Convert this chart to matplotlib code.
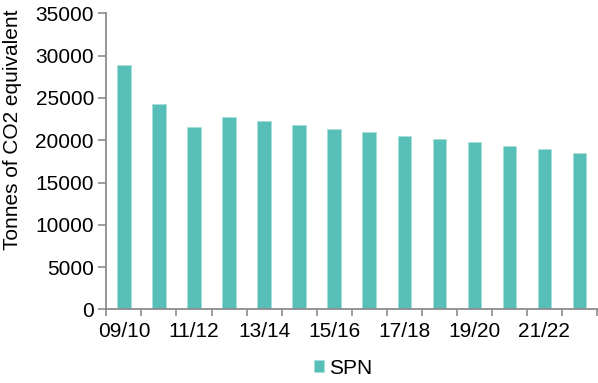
import matplotlib
matplotlib.use("Agg")
import matplotlib.pyplot as plt
from matplotlib.ticker import FixedLocator, NullFormatter, FixedFormatter
import numpy as np

plt.rcParams['font.family'] = ['Liberation Sans', 'DejaVu Sans']

years = ["09/10", "10/11", "11/12", "12/13", "13/14", "14/15", "15/16",
         "16/17", "17/18", "18/19", "19/20", "20/21", "21/22", "22/23"]
spn = [28950, 24250, 21550, 22700, 22250, 21800, 21350,
       20950, 20550, 20150, 19750, 19350, 18950, 18550]
yticks = [0, 5000, 10000, 15000, 20000, 25000, 30000, 35000]

bar_color = '#58BFB8'
axis_color = '#8C8C8C'
fs = 15

fig = plt.figure(figsize=(5.98, 3.83), dpi=100)
ax = fig.add_axes([0.178, 0.192, 0.820, 0.773])

x = np.arange(len(years))
ax.bar(x, spn, width=0.38, color=bar_color, edgecolor='#A8DEDA', linewidth=0.6,
       label='SPN', zorder=2)

ax.set_xlim(-0.5, len(years) - 0.5)
ax.set_ylim(0, 35000)
ax.set_yticks(yticks)
ax.set_yticklabels([str(v) for v in yticks], fontsize=fs)

ax.xaxis.set_major_locator(FixedLocator(np.arange(-0.5, len(years), 1.0)))
ax.xaxis.set_major_formatter(NullFormatter())
ax.xaxis.set_minor_locator(FixedLocator(x[::2]))
ax.xaxis.set_minor_formatter(FixedFormatter(years[::2]))
ax.tick_params(axis='x', which='major', direction='out', length=5, width=1.2,
               color=axis_color)
ax.tick_params(axis='x', which='minor', length=0, labelsize=fs, pad=9)
ax.tick_params(axis='y', direction='out', length=6, width=1.2, color=axis_color,
               labelsize=fs, pad=3)

for s in ['top', 'right']:
    ax.spines[s].set_visible(False)
for s in ['left', 'bottom']:
    ax.spines[s].set_color(axis_color)
    ax.spines[s].set_linewidth(1.3)

fig.text(13 / 598, 1 - 130 / 383, 'Tonnes of CO2 equivalent', rotation=90,
         ha='center', va='center', fontsize=fs)

fig.legend(loc='center', bbox_to_anchor=(343 / 598, 1 - 368 / 383), frameon=False,
           fontsize=fs, handlelength=0.5, handleheight=0.5, handletextpad=0.25)

fig.savefig('out.png', dpi=100)
